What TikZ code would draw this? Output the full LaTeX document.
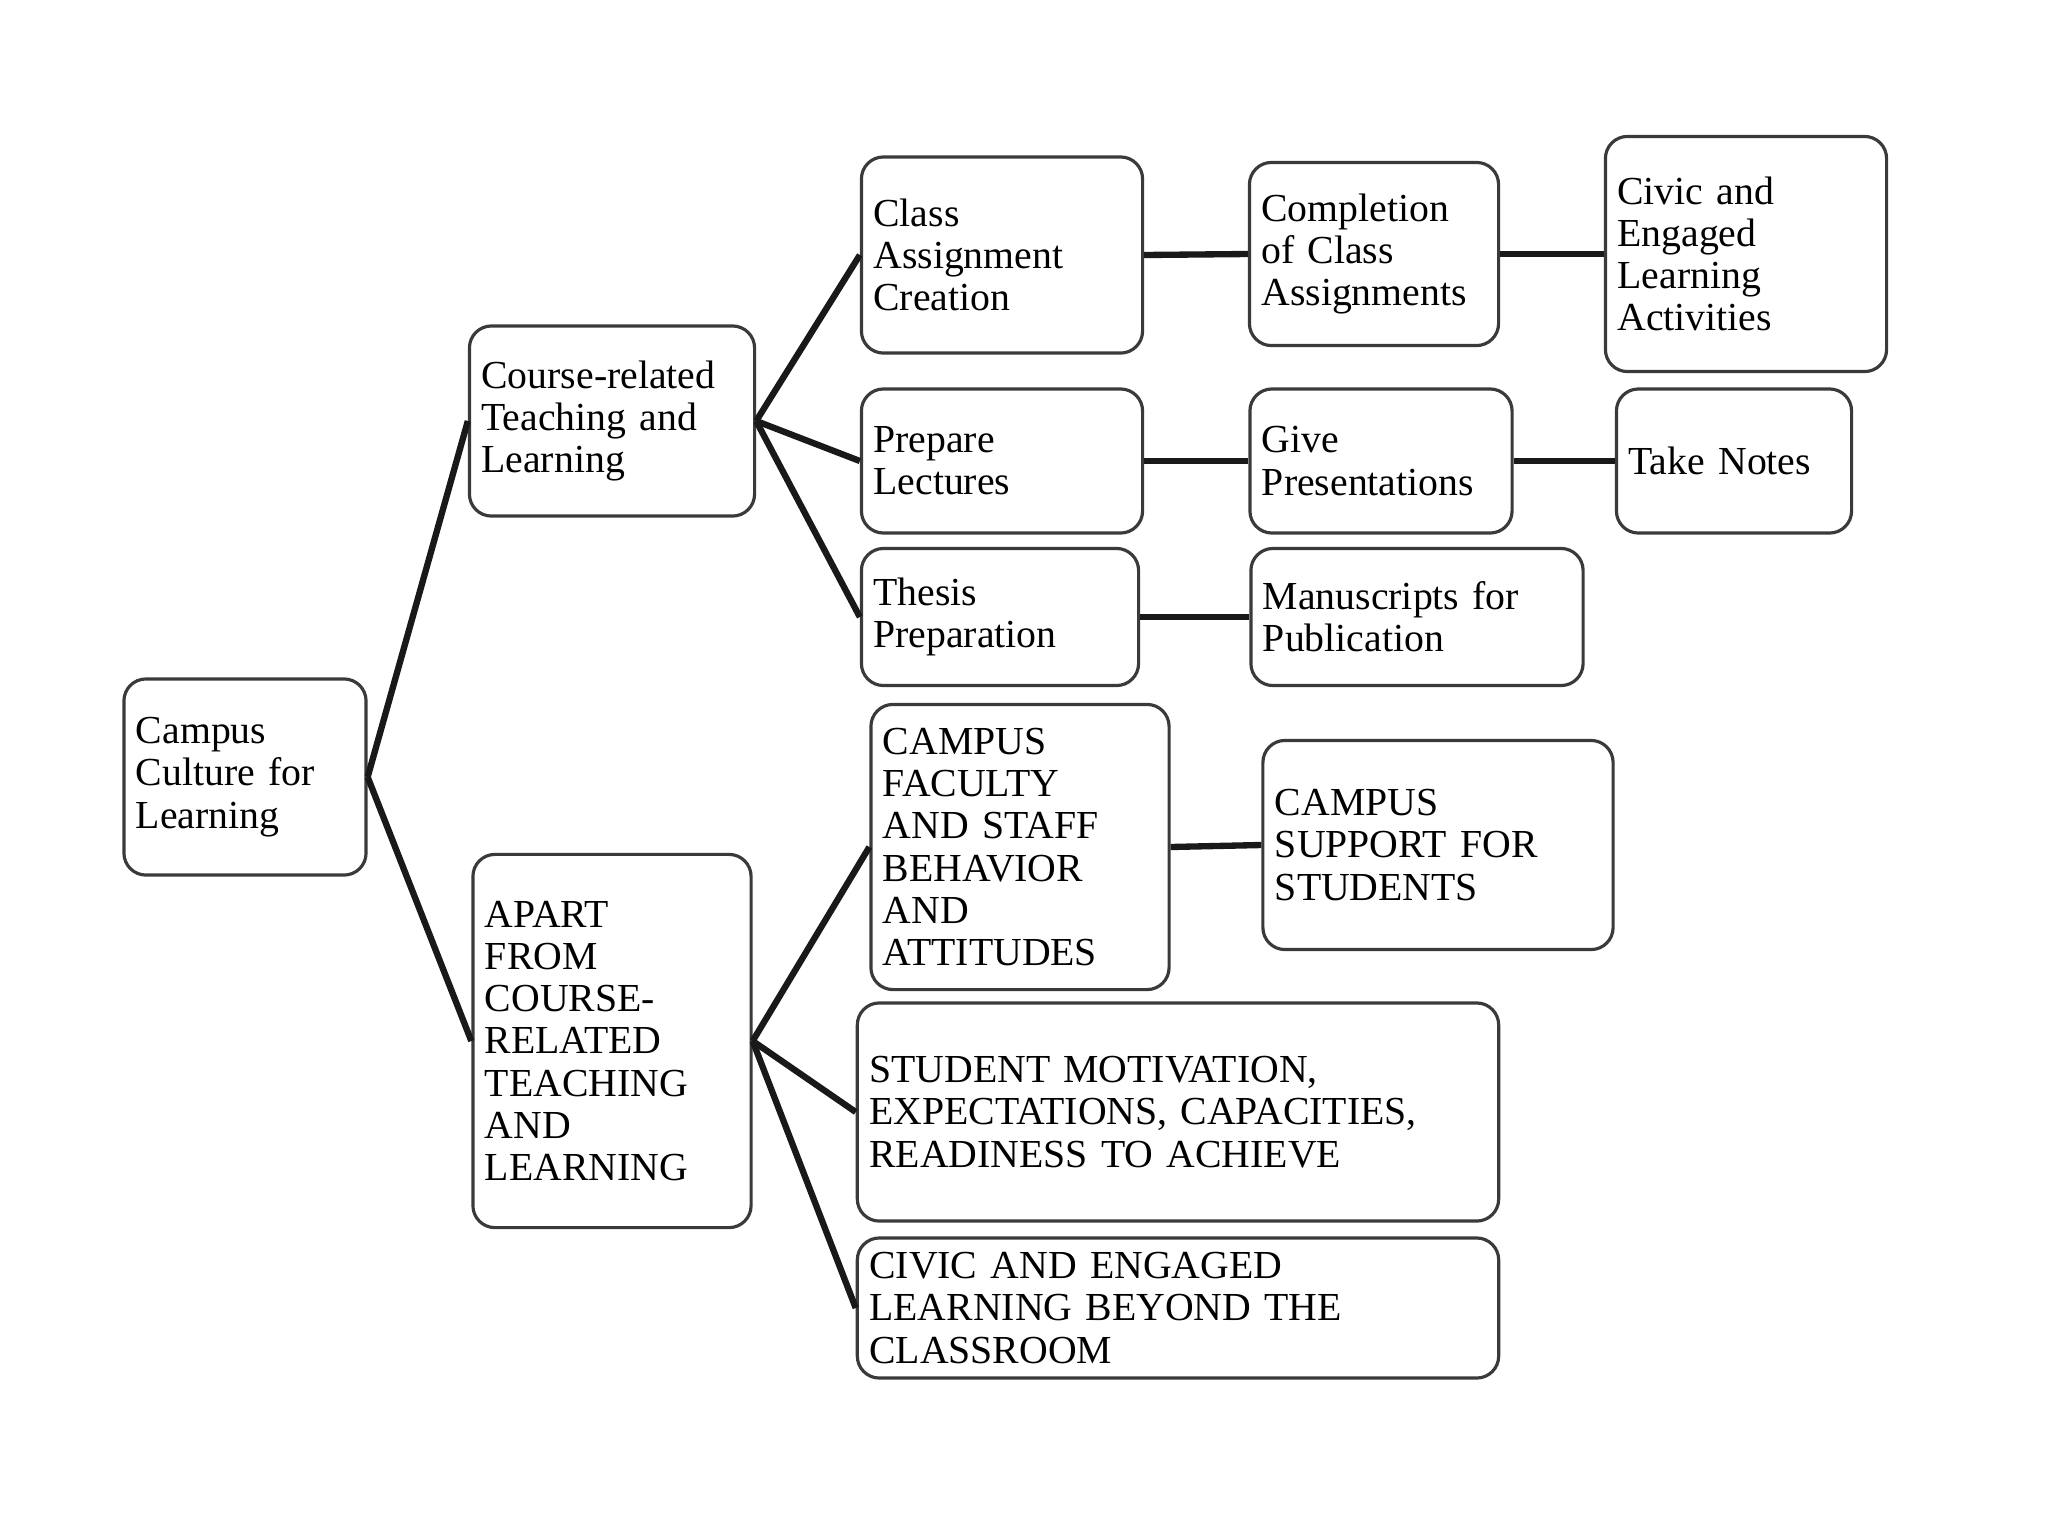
\documentclass[tikz,border=0pt]{standalone}
\usepackage{fontspec}
\setmainfont{Liberation Serif}
\usepackage{xcolor}
\definecolor{edge-gray}{HTML}{3A3A3A}

\begin{document}
\begin{tikzpicture}[x=0.01cm, y=-0.01cm,
      every node/.style={font=\fontsize{11.3}{12}\selectfont},
      box/.style={draw=edge-gray, line width=0.9pt, rounded corners=0.22cm,
                  align=left, inner xsep=0.12cm, inner ysep=0pt},
      link/.style={line width=1.8pt, black!90}]
    \useasboundingbox (0,0) rectangle (2048,1536);
    % root and the two branches
    \node[box, text width=2.18cm, minimum height=1.96cm] (culture) at (245,777)
          {Campus\\ Culture for\\ Learning};
    \node[box, text width=2.61cm, minimum height=1.90cm] (course) at (612,421)
          {Course-related\\ Teaching and\\ Learning};
    \node[box, text width=2.54cm, minimum height=3.73cm] (apart) at (612,1041)
          {APART\\ FROM\\ COURSE-\\ RELATED\\ TEACHING\\ AND\\ LEARNING};
    % course-related chain
    \node[box, text width=2.57cm, minimum height=1.96cm] (classasg) at (1002,255)
          {Class\\ Assignment\\ Creation};
    \node[box, text width=2.25cm, minimum height=1.83cm] (completion) at (1374,254)
          {Completion\\ of Class\\ Assignments};
    \node[box, text width=2.57cm, minimum height=2.35cm] (civic) at (1746,254)
          {Civic and\\ Engaged\\ Learning\\ Activities};
    \node[box, text width=2.57cm, minimum height=1.44cm] (lectures) at (1002,461)
          {Prepare\\ Lectures};
    \node[box, text width=2.38cm, minimum height=1.44cm] (present) at (1381,461)
          {Give\\ Presentations};
    \node[box, text width=2.11cm, minimum height=1.44cm] (notes) at (1734,461)
          {Take Notes};
    \node[box, text width=2.53cm, minimum height=1.37cm] (thesis) at (1000,617)
          {Thesis\\ Preparation};
    \node[box, text width=3.08cm, minimum height=1.37cm] (manuscripts) at (1417,617)
          {Manuscripts for\\ Publication};
    % apart-from chain
    \node[box, text width=2.74cm, minimum height=2.85cm] (faculty) at (1020,847)
          {CAMPUS\\ FACULTY\\ AND STAFF\\ BEHAVIOR\\ AND\\ ATTITUDES};
    \node[box, text width=3.26cm, minimum height=2.09cm] (support) at (1438,845)
          {CAMPUS\\ SUPPORT FOR\\ STUDENTS};
    \node[box, text width=6.17cm, minimum height=2.18cm] (motivation) at (1178,1112)
          {STUDENT MOTIVATION,\\ EXPECTATIONS, CAPACITIES,\\ READINESS TO ACHIEVE};
    \node[box, text width=6.17cm, minimum height=1.40cm] (beyond) at (1178,1308)
          {CIVIC AND ENGAGED\\ LEARNING BEYOND THE\\ CLASSROOM};

    \draw[link] (culture.east) -- (course.west);
    \draw[link] (culture.east) -- (apart.west);
    \draw[link] (course.east) -- (classasg.west);
    \draw[link] (course.east) -- (lectures.west);
    \draw[link] (course.east) -- (thesis.west);
    \draw[link] (classasg.east) -- (completion.west);
    \draw[link] (completion.east) -- (civic.west);
    \draw[link] (lectures.east) -- (present.west);
    \draw[link] (present.east) -- (notes.west);
    \draw[link] (thesis.east) -- (manuscripts.west);
    \draw[link] (apart.east) -- (faculty.west);
    \draw[link] (apart.east) -- (motivation.west);
    \draw[link] (apart.east) -- (beyond.west);
    \draw[link] (faculty.east) -- (support.west);
  \end{tikzpicture}
\end{document}
